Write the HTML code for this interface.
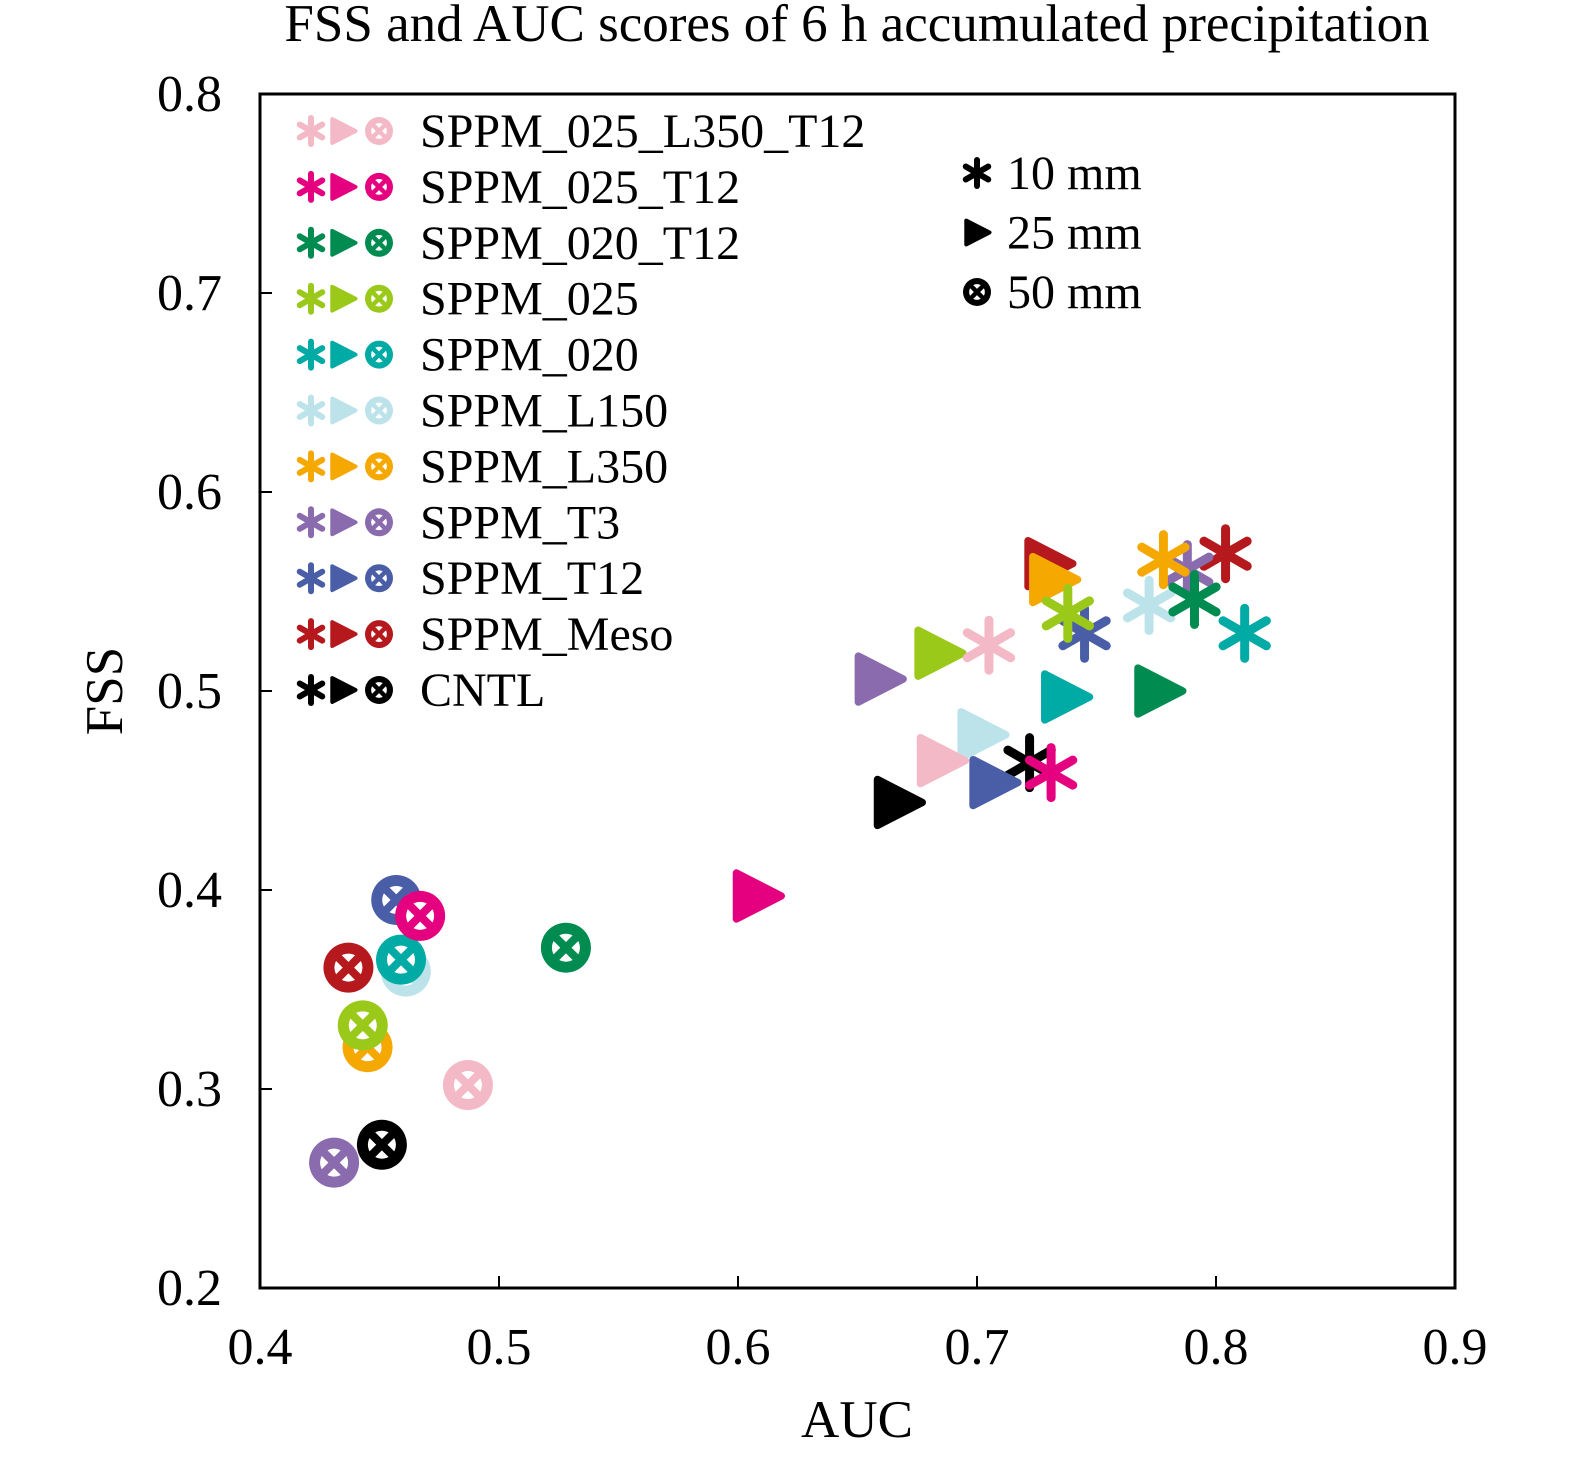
<!DOCTYPE html>
<html><head><meta charset="utf-8"><style>
html,body{margin:0;padding:0;background:#fff;}
svg{display:block;font-family:"Liberation Serif",serif;}
</style></head><body>
<svg id="chart" width="1575" height="1457" viewBox="0 0 1575 1457" xmlns="http://www.w3.org/2000/svg">
<text x="857" y="41" font-size="53" text-anchor="middle">FSS and AUC scores of 6 h accumulated precipitation</text>
<rect x="260" y="94" width="1195" height="1194" fill="none" stroke="#000" stroke-width="3"/>
<g id="ticks"></g>
<g id="marks"></g>
<g id="legend"></g>
<text x="857" y="1437" font-size="53" text-anchor="middle">AUC</text>
<text transform="translate(122,691) rotate(-90)" font-size="53" text-anchor="middle">FSS</text>
</svg>
<script>
const names = ["SPPM_025_L350_T12","SPPM_025_T12","SPPM_020_T12","SPPM_025","SPPM_020","SPPM_L150","SPPM_L350","SPPM_T3","SPPM_T12","SPPM_Meso","CNTL"];
const colors = ["#f4b9c6","#e4007f","#008c50","#9bc91a","#00aaa5","#bde3ea","#f5a800","#8a6bad","#4a5ea8","#b5191e","#000000"];
const auc10 = [0.705,0.731,0.791,0.738,0.812,0.772,0.778,0.788,0.745,0.804,0.722];
const fss10 = [0.523,0.459,0.546,0.539,0.529,0.543,0.566,0.561,0.529,0.569,0.464];
const auc25 = [0.685,0.608,0.776,0.684,0.737,0.702,0.732,0.659,0.707,0.730,0.667];
const fss25 = [0.465,0.397,0.500,0.519,0.497,0.478,0.556,0.506,0.454,0.564,0.444];
const auc50 = [0.487,0.467,0.528,0.443,0.459,0.461,0.445,0.431,0.457,0.437,0.451];
const fss50 = [0.302,0.387,0.371,0.332,0.365,0.359,0.321,0.263,0.395,0.361,0.272];
const xTicks = [0.4,0.5,0.6,0.7,0.8,0.9];
const yTicks = [0.2,0.3,0.4,0.5,0.6,0.7,0.8];

const NS="http://www.w3.org/2000/svg";
const X0=260,X1=1455,Y0=1288,Y1=94;
const xs=v=>X0+(v-0.4)/0.5*(X1-X0);
const ys=v=>Y0-(v-0.2)/0.6*(Y0-Y1);
function mk(tag,attrs,parent){const e=document.createElementNS(NS,tag);for(const k in attrs)e.setAttribute(k,attrs[k]);parent.appendChild(e);return e;}

const tg=document.getElementById('ticks');
xTicks.forEach(t=>{
  const x=xs(t);
  const l=mk('line',{x1:x,y1:Y0,x2:x,y2:Y0-12,stroke:'#000','stroke-width':2},tg);
  
  
  const tx=mk('text',{x:x,y:1364,'font-size':52,'text-anchor':'middle'},tg);
  tx.textContent=t.toFixed(1);
  
  
});
yTicks.forEach(t=>{
  const y=ys(t);
  const l=mk('line',{x1:X0,y1:y,x2:X0+12,y2:y,stroke:'#000','stroke-width':2},tg);
  
  
  const tx=mk('text',{x:222,y:y+17,'font-size':52,'text-anchor':'end'},tg);
  tx.textContent=t.toFixed(1);
  
  
});

function star(p,cx,cy,r,c,w){
  const g=mk('g',{stroke:c,'stroke-width':w,'stroke-linecap':'round'},p);
  for(let i=0;i<3;i++){const a=Math.PI/2+i*Math.PI/3;
    mk('line',{x1:cx+r*Math.cos(a),y1:cy+r*Math.sin(a),x2:cx-r*Math.cos(a),y2:cy-r*Math.sin(a)},g);}
  return g;
}
function tri(p,cx,cy,s,c){
  const h=s/2;
  return mk('polygon',{points:`${cx-h*0.9},${cy-h} ${cx+h*1.05},${cy} ${cx-h*0.9},${cy+h}`,fill:c,stroke:c,'stroke-width':s*0.16,'stroke-linejoin':'round'},p);
}
function circ(p,cx,cy,r,c){
  const g=mk('g',{},p);
  mk('circle',{cx:cx,cy:cy,r:r,fill:c},g);
  mk('circle',{cx:cx,cy:cy,r:r*0.56,fill:'#fff'},g);
  const d=r*0.6;
  mk('line',{x1:cx-d,y1:cy-d,x2:cx+d,y2:cy+d,stroke:c,'stroke-width':r*0.32},g);
  mk('line',{x1:cx-d,y1:cy+d,x2:cx+d,y2:cy-d,stroke:c,'stroke-width':r*0.32},g);
  return g;
}

const mg=document.getElementById('marks');
for(let i=names.length-1;i>=0;i--){
  const c=colors[i];
  const a=circ(mg,xs(auc50[i]),ys(fss50[i]),25,c);
  
  
  const b=tri(mg,xs(auc25[i]),ys(fss25[i]),46,c);
  
  
  const s=star(mg,xs(auc10[i]),ys(fss10[i]),25,c,9);
  
  
}

const lg=document.getElementById('legend');
names.forEach((n,i)=>{
  const y=131+55.9*i;
  const g=mk('g',{},lg);
  
  
  star(g,311,y,13,colors[i],6);
  tri(g,343,y,24,colors[i]);
  circ(g,379,y,14,colors[i]);
  const t=mk('text',{x:420,y:y+16,'font-size':48},g);
  t.textContent=n;
});
const sizes=["10 mm","25 mm","50 mm"];
sizes.forEach((s,i)=>{
  const y=173+59.5*i;
  const g=mk('g',{},lg);
  
  
  if(i===0) star(g,977,y,13,'#000',6);
  if(i===1) tri(g,977,y,24,'#000');
  if(i===2) circ(g,977,y,14,'#000');
  const t=mk('text',{x:1007,y:y+16,'font-size':48},g);
  t.textContent=s;
});
</script>
</body></html>
